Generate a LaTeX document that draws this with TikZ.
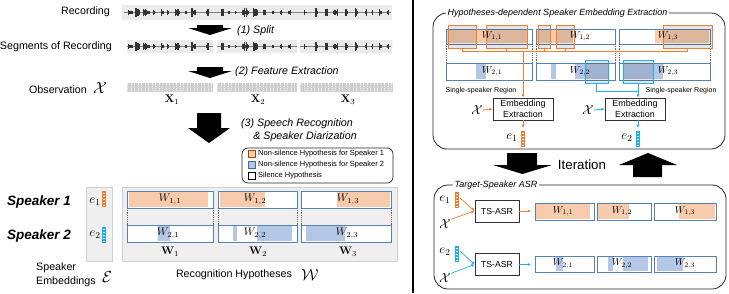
\RequirePackage{fix-cm}
\documentclass[tikz,border=0pt]{standalone}
\usepackage[no-math]{fontspec}
\setmainfont{Liberation Sans}
\usetikzlibrary{arrows.meta}
\definecolor{orfill}{HTML}{F8CBAD}
\definecolor{blfill}{HTML}{B4C7E7}
\definecolor{segblue}{HTML}{5582B5}
\definecolor{orline}{HTML}{F07E2E}
\definecolor{cyline}{HTML}{1CB0EE}
\definecolor{panelgray}{HTML}{EFEFEF}
\definecolor{panelborder}{HTML}{CFCFCF}
\definecolor{wavebg}{HTML}{EBEBEB}
\newcommand\myvecbar[3]{%
  \draw[#3, line width=0.6pt] (#1-1.5,#2) rectangle (#1+1.5,#2+15);
  \foreach \k in {1,...,9} {\draw[#3, line width=0.25pt] (#1-1.5,#2+\k*1.5) -- (#1+1.5,#2+\k*1.5);}
}
\newcommand\mybursts[1]{%
  \foreach \c/\n/\a in {130/5/3, 137/6/5, 146/7/5, 154/3/3, 162/4/4, 168/2/3, 177/6/4, 186/2/2, 193/5/5, 207/3/4, 222/3/4, 229/2/3, 236/2/2, 245/8/5, 255/6/5, 264/4/3, 273/2/2, 281/3/3, 289/3/3, 305/3/3, 316/4/5, 326/3/4, 335/6/5, 346/4/4, 356/4/5, 366/2/4, 372/2/3, 380/4/5, 388/2/4} {
    \foreach \i in {1,...,\n} {
      \pgfmathsetmacro\h{\a*(0.25+0.75*rnd)}
      \pgfmathsetmacro\xx{\c+(\i-(\n+1)/2)*0.9}
      \draw[line width=0.3pt, black!80] (\xx,#1-\h) -- (\xx,#1+\h);
    }
  }
}
\newcommand\myobs[2]{%
  \fill[gray!12] (#1,83) rectangle (#2,92);
  \pgfmathsetmacro\xs{#1+0.7}
  \pgfmathsetmacro\xt{#1+2.1}
  \foreach \x in {\xs,\xt,...,#2} {\draw[gray!40, line width=0.25pt] (\x,83) -- (\x,92);}
  \foreach \y in {85,87,89,91} {\draw[gray!35, line width=0.25pt] (#1,\y) -- (#2,\y);}
}
\begin{document}
\begin{tikzpicture}[x=1pt,y=-1pt,
  >={Latex[length=3.2pt,width=3pt]},
  lbl/.style={font=\fontsize{10.7}{12}\selectfont, inner sep=0pt},
  itl/.style={font=\fontsize{10.7}{13}\selectfont\itshape, inner sep=0pt},
  spk/.style={font=\fontsize{13.5}{15}\selectfont\bfseries\itshape, inner sep=0pt},
  leg/.style={font=\fontsize{7.5}{9}\selectfont, inner sep=0pt, anchor=west},
  wlab/.style={font=\fontsize{11}{12}\selectfont, inner sep=0pt},
  wlabs/.style={font=\fontsize{10}{11}\selectfont, inner sep=0pt},
  mathbig/.style={font=\fontsize{16}{18}\selectfont, inner sep=0pt},
  mathmid/.style={font=\fontsize{13}{15}\selectfont, inner sep=0pt},
  segline/.style={draw=segblue, line width=0.8pt},
  dashline/.style={draw=black!60, line width=0.5pt, dash pattern=on 1.2pt off 1pt},
  ebox/.style={draw=black!80, line width=0.8pt, fill=white, minimum width=60pt, minimum height=22pt, inner sep=0pt, align=center, font=\fontsize{8.9}{11}\selectfont},
  tsbox/.style={draw=black!80, line width=0.8pt, fill=white, minimum width=44pt, minimum height=22pt, inner sep=0pt, font=\fontsize{8.7}{10}\selectfont},
  hlo/.style={draw=orline, line width=0.9pt, fill=black, fill opacity=0.1, inner sep=0pt, outer sep=0pt, minimum height=23pt},
  hlc/.style={draw=cyline, line width=0.9pt, fill=black, fill opacity=0.1, inner sep=0pt, outer sep=0pt, minimum height=23pt},
  bigarrow/.style={fill=black},
  title/.style={font=\fontsize{9}{10}\selectfont\itshape, fill=white, inner sep=1.5pt, anchor=west},
  small/.style={font=\fontsize{7}{8}\selectfont, inner sep=0pt}
]
\useasboundingbox (0,0) rectangle (729,293);
\pgfmathsetseed{7}

% ---------------- left: recording ----------------
\node[lbl, anchor=east] (rec) at (110,12) {Recording};
\fill[wavebg] (122,5) rectangle (392,20);
\draw[black!50, line width=0.3pt] (124,12.5) -- (391,12.5);
\mybursts{12.5}

\fill[bigarrow] (197,25) -- (223,25) -- (223,28) -- (232,28) -- (210,35) -- (188,28) -- (197,28) -- cycle;
\node[itl, anchor=west] (split) at (237,31) {(1) Split};

\node[lbl, anchor=east] (segs) at (112,47) {Segments of Recording};
\fill[wavebg] (127,40) rectangle (213,53) (217,40) rectangle (297,53) (300,40) rectangle (392,53);
\begin{scope}
\clip (127,40) rectangle (213,53) (217,40) rectangle (297,53) (300,40) rectangle (392,53);
\draw[black!50, line width=0.3pt] (124,46.5) -- (391,46.5);
\pgfmathsetseed{7}
\mybursts{46.5}
\end{scope}

\fill[bigarrow] (197,67) -- (223,67) -- (223,71) -- (232,71) -- (210,78) -- (188,71) -- (197,71) -- cycle;
\node[itl, anchor=west] (feat) at (235,72) {(2) Feature Extraction};

\node[lbl] (obs) at (58,90) {Observation};
\node[mathbig] (obsX) at (100,88) {$\mathcal{X}$};
\myobs{127}{213}
\myobs{217}{297}
\myobs{300}{392}
\node[wlab] (x1) at (172,100) {$\mathbf{X}_1$};
\node[wlab] (x2) at (258,100) {$\mathbf{X}_2$};
\node[wlab] (x3) at (348,100) {$\mathbf{X}_3$};

\fill[bigarrow] (197,113) -- (221,113) -- (221,128) -- (230,128) -- (209,143) -- (188,128) -- (197,128) -- cycle;
\node[itl, align=center] (asr) at (297,130) {(3) Speech Recognition\\\hspace*{1.5em}\& Speaker Diarization};

% legend
\draw[line width=0.7pt, rounded corners=6pt, black!85] (242,148) rectangle (393,183);
\draw[fill=orfill, draw=orange!60!black, line width=0.4pt] (248,150.5) rectangle (255,157.5);
\draw[fill=blfill, draw=segblue!80!black, line width=0.4pt] (248,161.5) rectangle (255,168.5);
\draw[fill=white, draw=black, line width=0.4pt] (248,172.5) rectangle (255,179.5);
\node[leg] (l1) at (258,154) {Non-silence Hypothesis for Speaker 1};
\node[leg] (l2) at (258,165) {Non-silence Hypothesis for Speaker 2};
\node[leg] (l3) at (258,176) {Silence Hypothesis};

% panels
\node[spk] (sp1) at (39,202) {Speaker 1};
\node[spk] (sp2) at (39,236) {Speaker 2};
\fill[panelgray, draw=panelborder, line width=0.5pt] (86,187) rectangle (112,261);
\fill[panelgray, draw=panelborder, line width=0.5pt] (122,187) rectangle (397,261);
\node[mathmid] (le1) at (95,202) {$e_1$};
\node[mathmid] (le2) at (95,235) {$e_2$};
\myvecbar{104}{191}{orline}
\myvecbar{104}{227}{cyline}

\foreach \a/\b in {127/213, 218/297, 301/391} {
  \fill[white] (\a,191) rectangle (\b,208);
  \fill[white] (\a,225) rectangle (\b,242);
}
\fill[orfill] (128.5,192) rectangle (208,207);
\fill[orfill] (219.5,192) rectangle (265,207);
\fill[orfill] (337,192) rectangle (390,207);
\fill[blfill] (158,226) rectangle (170,241);
\fill[blfill] (233,226) rectangle (237,241);
\fill[blfill] (257,226) rectangle (292,241);
\fill[blfill] (306,226) rectangle (345,241);
\foreach \a/\b in {127/213, 218/297, 301/391} {
  \draw[segline] (\a,191) rectangle (\b,208);
  \draw[segline] (\a,225) rectangle (\b,242);
  \draw[dashline] (\a,208) -- (\a,225);
  \draw[dashline] (\b,208) -- (\b,225);
}
\node[wlab] (lw11) at (170,199.5) {$W_{1,1}$};
\node[wlab] (lw12) at (255,199.5) {$W_{1,2}$};
\node[wlab] (lw13) at (348,199.5) {$W_{1,3}$};
\node[wlab] (lw21) at (168,233.5) {$W_{2,1}$};
\node[wlab] (lw22) at (255,233.5) {$W_{2,2}$};
\node[wlab] (lw23) at (347,233.5) {$W_{2,3}$};
\node[wlab] (bw1) at (170,252) {$\mathbf{W}_1$};
\node[wlab] (bw2) at (258,252) {$\mathbf{W}_2$};
\node[wlab] (bw3) at (348,252) {$\mathbf{W}_3$};

\node[lbl, align=left, anchor=west, font=\fontsize{10.7}{14}\selectfont] (spemb) at (36,275) {Speaker\\Embeddings};
\node[mathbig] (calE) at (107,277) {$\mathcal{E}$};
\node[lbl] (rechyp) at (234,275) {Recognition Hypotheses};
\node[mathbig] (calW) at (310,275) {$\mathcal{W}$};

% divider
\draw[line width=1.3pt] (413,0) -- (413,293);

% ---------------- right top ----------------
\draw[line width=0.8pt, black!85, rounded corners=14pt] (433,13) rectangle (725,149);
\node[title] (ttop) at (446,13) {Hypotheses-dependent Speaker Embedding Extraction};

\foreach \a/\b in {446/532, 536/615, 619/710} {
  \fill[white] (\a,29) rectangle (\b,44);
  \fill[white] (\a,63) rectangle (\b,80);
}
\fill[orfill] (447,30) rectangle (527,43);
\fill[orfill] (537,30) rectangle (573,43);
\fill[orfill] (655,30) rectangle (709,43);
\fill[blfill] (476,64) rectangle (486,79);
\fill[blfill] (551,64) rectangle (556,79);
\fill[blfill] (575,64) rectangle (608,79);
\fill[blfill] (623,64) rectangle (663,79);
\foreach \a/\b in {446/532, 536/615, 619/710} {
  \draw[segline] (\a,29) rectangle (\b,44);
  \draw[segline] (\a,63) rectangle (\b,80);
  \draw[dashline] (\a,44) -- (\a,63);
  \draw[dashline] (\b,44) -- (\b,63);
}
\node[hlo, minimum width=28pt] (hA) at (462,36.5) {};
\node[hlo, minimum width=41pt] (hB) at (506.5,36.5) {};
\node[hlo, minimum width=12pt] (hC) at (544,36.5) {};
\node[hlo, minimum width=18pt] (hD) at (565,36.5) {};
\node[hlo, minimum width=49pt] (hE) at (687.5,36.5) {};
\node[hlc, minimum width=23pt] (hF) at (596.5,71.5) {};
\node[hlc, minimum width=30pt] (hG) at (638,71.5) {};
\node[wlabs] (tw11) at (492,36.5) {$W_{1,1}$};
\node[wlabs] (tw12) at (580,36.5) {$W_{1,2}$};
\node[wlabs] (tw13) at (668,36.5) {$W_{1,3}$};
\node[wlabs] (tw21) at (492,71.5) {$W_{2,1}$};
\node[wlabs] (tw22) at (580,71.5) {$W_{2,2}$};
\node[wlabs] (tw23) at (668,71.5) {$W_{2,3}$};

\node[ebox] (emb1) at (523,109) {Embedding\\Extraction};
\node[ebox] (emb2) at (635,109) {Embedding\\Extraction};
\node[small] (ssr1) at (481,91) {Single-speaker Region};
\node[small] (ssr2) at (681,91) {Single-speaker Region};

\coordinate (ob) at (0,51);
\draw[orline, line width=0.8pt] (hA.south) -- (hA.south |- ob) -- (hE.south |- ob) -- (hE.south);
\draw[orline, line width=0.8pt] (hB.south) -- (hB.south |- ob);
\draw[orline, line width=0.8pt] (hC.south) -- (hC.south |- ob);
\draw[orline, line width=0.8pt] (hD.south) -- (hD.south |- ob);
\draw[orline, line width=0.8pt, ->] (emb1.north |- ob) -- (emb1.north);
\coordinate (cb) at (0,91);
\draw[cyline, line width=0.8pt] (hF.south) -- (hF.south |- cb) -- (hG.south |- cb);
\draw[cyline, line width=0.8pt, ->] (hG.south) -- (hG.south |- emb2.north);

\node[mathmid] (tX1) at (477,110) {$\mathcal{X}$};
\node[mathmid] (tX2) at (588,110) {$\mathcal{X}$};
\draw[orline, line width=0.8pt, ->] (tX1.east) -- (emb1.west);
\draw[cyline, line width=0.8pt, ->] (tX2.east) -- (emb2.west);
\coordinate (te1b) at (523,128);
\coordinate (te2b) at (638,128);
\draw[orline, line width=0.8pt, ->] (emb1.south) -- (te1b);
\draw[cyline, line width=0.8pt, ->] (emb2.south -| te2b) -- (te2b);
\node[mathmid] (te1) at (512,138) {$e_1$};
\node[mathmid] (te2) at (627,138) {$e_2$};
\myvecbar{523}{131}{orline}
\myvecbar{638}{131}{cyline}

% iteration arrows
\fill[bigarrow] (507,153) -- (537,153) -- (537,165) -- (552,165) -- (522.5,174) -- (493,165) -- (507,165) -- cycle;
\fill[bigarrow] (633,177) -- (662,177) -- (662,165) -- (677,165) -- (648,153) -- (619,165) -- (633,165) -- cycle;
\node[font=\fontsize{13.3}{15}\selectfont, inner sep=0pt] (iter) at (582,165) {Iteration};

% ---------------- right bottom ----------------
\draw[line width=0.8pt, black!85, rounded corners=14pt] (434,185) rectangle (726,289);
\node[title] (tbot) at (453,185) {Target-Speaker ASR};

\foreach \a/\b in {535/594, 597/651, 654/716} {
  \fill[white] (\a,203) rectangle (\b,220);
  \fill[white] (\a,256) rectangle (\b,272);
}
\fill[orfill] (536,204) rectangle (590,219);
\fill[orfill] (598,204) rectangle (629,219);
\fill[orfill] (679,204) rectangle (715,219);
\fill[blfill] (556,257) rectangle (563,271);
\fill[blfill] (608,257) rectangle (613,271);
\fill[blfill] (623,257) rectangle (648,271);
\fill[blfill] (657,257) rectangle (683,271);
\foreach \a/\b in {535/594, 597/651, 654/716} {
  \draw[segline] (\a,203) rectangle (\b,220);
  \draw[segline] (\a,256) rectangle (\b,272);
}
\node[wlabs] (bw11) at (563,211.5) {$W_{1,1}$};
\node[wlabs] (bw12) at (622,211.5) {$W_{1,2}$};
\node[wlabs] (bw13) at (685,211.5) {$W_{1,3}$};
\node[wlabs] (bw21) at (563,264) {$W_{2,1}$};
\node[wlabs] (bw22) at (622,264) {$W_{2,2}$};
\node[wlabs] (bw23) at (685,264) {$W_{2,3}$};

\node[tsbox] (ts1) at (497,211) {TS-ASR};
\node[tsbox] (ts2) at (497,264.5) {TS-ASR};
\node[mathmid] (be1) at (445,200) {$e_1$};
\node[mathmid] (be2) at (445,252) {$e_2$};
\node[mathmid] (bX1) at (445,224) {$\mathcal{X}$};
\node[mathmid] (bX2) at (445,278) {$\mathcal{X}$};
\myvecbar{457}{192}{orline}
\myvecbar{457}{246}{cyline}
\coordinate (be1b) at (460,198);
\coordinate (be2b) at (460,251);
\draw[orline, line width=0.7pt, ->] (be1b) -- (ts1.west);
\draw[orline, line width=0.7pt, ->] (bX1.north east) -- (ts1.west);
\draw[cyline, line width=0.7pt, ->] (be2b) -- (ts2.west);
\draw[cyline, line width=0.7pt, ->] (bX2.north east) -- (ts2.west);
\coordinate (o1) at (531,211);
\coordinate (o2) at (531,264.5);
\draw[orline, line width=0.8pt, ->] (ts1.east) -- (o1);
\draw[cyline, line width=0.8pt, ->] (ts2.east) -- (o2);
\end{tikzpicture}
\end{document}
